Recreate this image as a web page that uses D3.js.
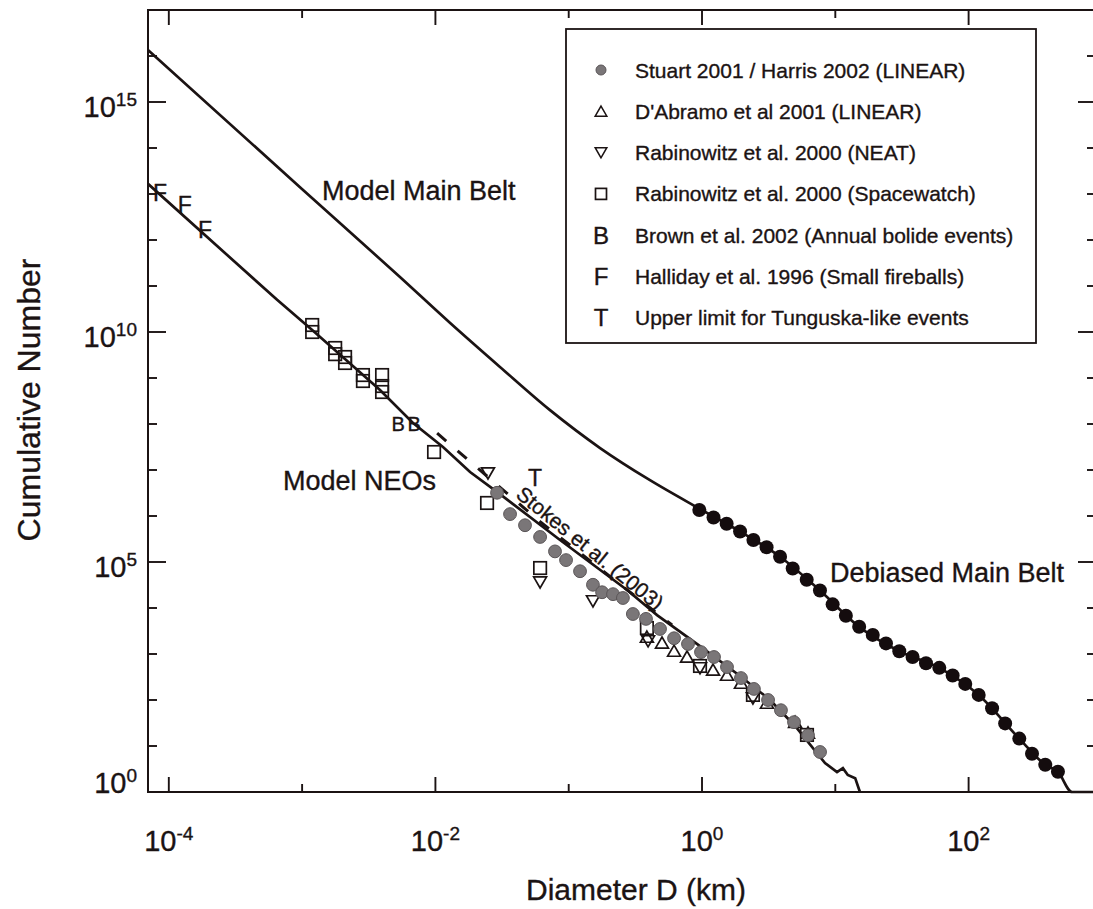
<!DOCTYPE html>
<html>
<head>
<meta charset="utf-8">
<script src="https://cdn.jsdelivr.net/npm/d3@7"></script>
<style>
  body { margin: 0; background: #fff; }
  svg text { font-family: "Liberation Sans", Arial, Helvetica, sans-serif; fill: #1b1313; stroke: #1b1313; stroke-width: 0.35px; }
</style>
</head>
<body>
<div class="chart-container"></div>
<script>
// ---- datos ----
// linea "Model Main Belt"
const mainBeltModelD = [6.98e-5, 9.64e-4, 5.42e-3, 0.0129, 0.0305, 0.0724, 0.172, 0.407, 0.966, 1.93, 3.85, 7.67, 15.1, 30.2, 60.3, 119, 240, 376, 468, 597, 903]
const mainBeltModelN = [1.35e16, 1.41e13, 1.57e11, 1.57e10, 1.74e9, 2.0e8, 3.0e7, 6.0e6, 1.42e6, 4.6e5, 1.3e5, 2.4e4, 3900, 1150, 500, 129, 14.5, 3.9, 2.75, 1, 1]

// puntos "Debiased Main Belt"
const debiasedD = [0.955, 1.22, 1.53, 1.93, 2.43, 3.05, 3.85, 4.79, 6.10, 7.67, 9.55, 12.0, 15.1, 19.1, 24.0, 30.2, 38.0, 47.9, 60.3, 75.9, 94.4, 119, 150, 188, 240, 299, 376, 468]
const debiasedN = [1.35e6, 9.3e5, 6.8e5, 4.6e5, 3.0e5, 2.1e5, 1.3e5, 7.2e4, 4.1e4, 2.4e4, 1.2e4, 6800, 3900, 2600, 1700, 1150, 860, 630, 500, 340, 224, 129, 66, 31, 14.5, 6.8, 3.9, 2.75]

// linea "Model NEOs"
const neoModelD = [6.98e-5, 6.49e-4, 1.19e-3, 3.84e-3, 6.79e-3, 0.0114, 0.0182, 0.0305, 0.0861, 0.274, 0.46, 0.966, 1.93, 3.24, 4.99, 8.37, 10.3, 11.4, 12.4, 14.1, 15.3]
const neoModelN = [1.66e13, 5.0e10, 1.1e10, 5.5e8, 1.05e8, 3.16e7, 9.06e6, 3.0e6, 3.0e5, 2.46e4, 7.0e3, 1.49e3, 333, 100, 27.2, 4.27, 2.72, 3.3, 2.34, 2.0, 1.0]

// Stokes et al. (2003)
const stokesD = [0.0103, 0.061, 0.596]
const stokesN = [6.3e7, 7.5e5, 4.27e3]

// Stuart 2001 / Harris 2002 (LINEAR)
const stuartD = [0.029, 0.0363, 0.047, 0.061, 0.0789, 0.0955, 0.1216, 0.152, 0.178, 0.215, 0.255, 0.303, 0.38, 0.484, 0.617, 0.785, 0.983, 1.23, 1.54, 1.96, 2.45, 3.13, 3.91, 4.9, 6.24, 7.68]
const stuartN = [3.2e6, 1.1e6, 6.3e5, 3.5e5, 1.7e5, 1.1e5, 6.3e4, 3.2e4, 2.2e4, 2.0e4, 1.65e4, 7.4e3, 5.8e3, 3.5e3, 2.2e3, 1.65e3, 1.1e3, 860, 520, 300, 174, 100, 60, 33, 17, 7.4]

// D'Abramo et al 2001 (LINEAR)
const dabramoD = [0.386, 0.501, 0.617, 0.772, 1.21, 1.54, 1.96, 3.07, 4.99, 6.24]
const dabramoN = [2.34e3, 1.74e3, 1.16e3, 861, 449, 349, 234, 86, 33, 19.2]

// Rabinowitz et al. 2000 (NEAT)
const neatD = [0.0248, 0.061, 0.152, 0.394, 0.966, 2.41]
const neatN = [8.6e6, 3.67e4, 1.42e4, 1.92e3, 497, 110]

// Rabinowitz et al. 2000 (Spacewatch)
const spacewatchD = [1.19e-3, 1.19e-3, 1.77e-3, 1.77e-3, 2.1e-3, 2.1e-3, 2.86e-3, 2.86e-3, 3.98e-3, 3.98e-3, 3.98e-3, 9.77e-3, 0.0244, 0.061, 0.386, 0.966, 2.41, 6.13]
const spacewatchN = [1.42e10, 1.0e10, 4.49e9, 3.3e9, 2.86e9, 2.12e9, 1.16e9, 8.6e8, 1.16e9, 6.7e8, 4.96e8, 2.46e7, 1.92e6, 7.4e4, 3.67e3, 550, 129, 17.4]

// Brown, Halliday, Tunguska (se dibujan como letras)
const brownD = [5.25e-3, 6.92e-3]
const brownN = [1.0e8, 1.0e8]
const hallidayD = [8.59e-5, 1.32e-4, 1.87e-4]
const hallidayN = [1.05e13, 5.8e12, 1.66e12]
const tunguskaD = [0.0559]
const tunguskaN = [6.7e6]

// ejes
const xTickExp = [-4, -3, -2, -1, 0, 1, 2]
const xLabelExp = ["-4", "-2", "0", "2"]
const yTickExp = [1, 2, 3, 4, 5, 6, 7, 8, 9, 10, 11, 12, 13, 14, 15, 16]
const yLabelExp = ["0", "5", "10", "15"]

// leyenda
const legendLabels = [
  "Stuart 2001 / Harris 2002 (LINEAR)",
  "D'Abramo et al 2001  (LINEAR)",
  "Rabinowitz et al. 2000 (NEAT)",
  "Rabinowitz et al. 2000 (Spacewatch)",
  "Brown et al. 2002 (Annual bolide events)",
  "Halliday et al. 1996 (Small fireballs)",
  "Upper limit for Tunguska-like events"
]
const legendSymbols = ["dot", "up", "down", "square", "B", "F", "T"]

// textos sobre la figura
const curveLabels = [
  { text: "Model Main Belt", D: 1.41e-3, N: 7.4e12 },
  { text: "Model NEOs", D: 7.19e-4, N: 3.67e6 },
  { text: "Debiased Main Belt", D: 9.12, N: 3.67e4 }
]
const stokesLabel = { text: "Stokes et al. (2003)", D: 0.1445, N: 2.0e5, angle: 39 }

// ---- grafico ----
const WIDTH = 1093
const HEIGHT = 909
const INK = "#1b1313"
const plot = { left: 148, right: 1096, top: 10, bottom: 792 }

const svg = d3.select(".chart-container")
  .append("svg")
  .attr("width", WIDTH)
  .attr("height", HEIGHT)

svg.append("rect").attr("width", WIDTH).attr("height", HEIGHT).attr("fill", "#fff")

const xScale = d3.scaleLog().domain([6.98e-5, 903]).range([plot.left, plot.right])
const yScale = d3.scaleLog().domain([1, 1e17]).range([plot.bottom, plot.top])

const zip = (xs, ys) => xs.map((d, i) => ({ D: d, N: ys[i] }))

svg.append("clipPath").attr("id", "plot-clip")
  .append("rect")
  .attr("x", plot.left).attr("y", plot.top - 2)
  .attr("width", plot.right - plot.left).attr("height", plot.bottom - plot.top + 4)

const inner = svg.append("g").attr("clip-path", "url(#plot-clip)")

// Lineas
const line = d3.line().x(d => xScale(d.D)).y(d => yScale(d.N))

inner.append("path")
  .datum(zip(mainBeltModelD, mainBeltModelN))
  .attr("d", line.curve(d3.curveMonotoneX))
  .attr("fill", "none").attr("stroke", INK).attr("stroke-width", 2.7)

inner.append("path")
  .datum(zip(neoModelD, neoModelN))
  .attr("d", line.curve(d3.curveLinear))
  .attr("fill", "none").attr("stroke", INK).attr("stroke-width", 2.7)

inner.append("path")
  .datum(zip(stokesD, stokesN))
  .attr("d", line.curve(d3.curveLinear))
  .attr("fill", "none").attr("stroke", INK).attr("stroke-width", 3)
  .attr("stroke-dasharray", "12,15")

// Simbolos
const triUp = d3.symbol().type(d3.symbolTriangle).size(72)()

const drawSymbol = (g, type, x, y, small) => {
  const k = small ? 0.9 : 1
  if (type === "dot") {
    g.append("circle").attr("cx", x).attr("cy", y).attr("r", small ? 5 : 6.4)
      .attr("fill", "#7a7678").attr("stroke", "#5a5557").attr("stroke-width", 1)
  } else if (type === "up" || type === "down") {
    g.append("path").attr("d", triUp)
      .attr("transform", `translate(${x},${y + (type === "up" ? 1.5 : -1.5)}) scale(${k}) rotate(${type === "up" ? 0 : 180})`)
      .attr("fill", "none").attr("stroke", INK).attr("stroke-width", 1.7)
  } else if (type === "square") {
    const s = small ? 11 : 12.5
    g.append("rect").attr("x", x - s / 2).attr("y", y - s / 2).attr("width", s).attr("height", s)
      .attr("fill", "none").attr("stroke", INK).attr("stroke-width", 1.7)
  } else {
    g.append("text").attr("x", x).attr("y", y).attr("dy", "0.36em")
      .attr("text-anchor", "middle").attr("font-size", small ? 24 : (type === "B" ? 20 : 23)).text(type)
  }
}

const symbolLayer = inner.append("g")
zip(spacewatchD, spacewatchN).forEach(d => drawSymbol(symbolLayer, "square", xScale(d.D), yScale(d.N)))
zip(neatD, neatN).forEach(d => drawSymbol(symbolLayer, "down", xScale(d.D), yScale(d.N)))
zip(dabramoD, dabramoN).forEach(d => drawSymbol(symbolLayer, "up", xScale(d.D), yScale(d.N)))
zip(stuartD, stuartN).forEach(d => drawSymbol(symbolLayer, "dot", xScale(d.D), yScale(d.N)))
zip(brownD, brownN).forEach(d => drawSymbol(symbolLayer, "B", xScale(d.D), yScale(d.N)))
zip(hallidayD, hallidayN).forEach(d => drawSymbol(symbolLayer, "F", xScale(d.D), yScale(d.N)))
zip(tunguskaD, tunguskaN).forEach(d => drawSymbol(symbolLayer, "T", xScale(d.D), yScale(d.N)))

// Debiased main belt
inner.append("g").selectAll("circle")
  .data(zip(debiasedD, debiasedN))
  .join("circle")
  .attr("cx", d => xScale(d.D))
  .attr("cy", d => yScale(d.N))
  .attr("r", 7)
  .attr("fill", "#140c0e")

// Marco
svg.append("rect")
  .attr("x", plot.left).attr("y", plot.top)
  .attr("width", plot.right - plot.left).attr("height", plot.bottom - plot.top)
  .attr("fill", "none").attr("stroke", INK).attr("stroke-width", 2)

// Ticks (hacia adentro)
const ticks = svg.append("g").attr("stroke", INK).attr("stroke-width", 1.9)
xTickExp.forEach(e => {
  const x = xScale(Math.pow(10, e))
  const len = e % 2 === 0 ? 15 : 8
  ticks.append("line").attr("x1", x).attr("x2", x).attr("y1", plot.bottom).attr("y2", plot.bottom - len)
  ticks.append("line").attr("x1", x).attr("x2", x).attr("y1", plot.top).attr("y2", plot.top + len)
})
yTickExp.forEach(e => {
  const y = yScale(Math.pow(10, e))
  const len = e % 5 === 0 ? 18 : 9
  ticks.append("line").attr("x1", plot.left).attr("x2", plot.left + len).attr("y1", y).attr("y2", y)
  ticks.append("line").attr("x1", plot.right).attr("x2", plot.right - len).attr("y1", y).attr("y2", y)
})

// Etiquetas de ticks
xLabelExp.forEach(e => {
  const t = svg.append("text")
    .attr("x", xScale(Math.pow(10, +e)))
    .attr("y", 851)
    .attr("text-anchor", "middle")
    .attr("font-size", 29)
  t.append("tspan").text("10")
  t.append("tspan").attr("dy", -11).attr("font-size", 19).text(e)
})
yLabelExp.forEach(e => {
  const t = svg.append("text")
    .attr("x", 137)
    .attr("y", yScale(Math.pow(10, +e)) + (e === "0" ? 1 : 15))
    .attr("text-anchor", "end")
    .attr("font-size", 29)
  t.append("tspan").text("10")
  t.append("tspan").attr("dy", -11).attr("font-size", 19).text(e)
})

// Titulos de ejes
svg.append("text")
  .attr("x", 636).attr("y", 900)
  .attr("text-anchor", "middle")
  .attr("font-size", 30)
  .text("Diameter D (km)")

svg.append("text")
  .attr("transform", "translate(40, 400) rotate(-90)")
  .attr("text-anchor", "middle")
  .attr("font-size", 32)
  .text("Cumulative Number")

// Etiquetas de curvas
curveLabels.forEach(d => {
  svg.append("text")
    .attr("x", xScale(d.D)).attr("y", yScale(d.N))
    .attr("font-size", 27)
    .text(d.text)
})
svg.append("text")
  .attr("transform", `translate(${xScale(stokesLabel.D)}, ${yScale(stokesLabel.N)}) rotate(${stokesLabel.angle})`)
  .attr("text-anchor", "middle")
  .attr("dy", "0.35em")
  .attr("font-size", 21)
  .text(stokesLabel.text)

// Leyenda
const legend = svg.append("g")
legend.append("rect")
  .attr("x", 566).attr("y", 29).attr("width", 470).attr("height", 314)
  .attr("fill", "#fff").attr("stroke", INK).attr("stroke-width", 1.8)

legendLabels.forEach((label, i) => {
  const y = 70 + i * 41.3
  drawSymbol(legend, legendSymbols[i], 601, y, true)
  legend.append("text")
    .attr("x", 635).attr("y", y).attr("dy", "0.36em")
    .attr("font-size", 21)
    .text(label)
})
</script>
</body>
</html>
